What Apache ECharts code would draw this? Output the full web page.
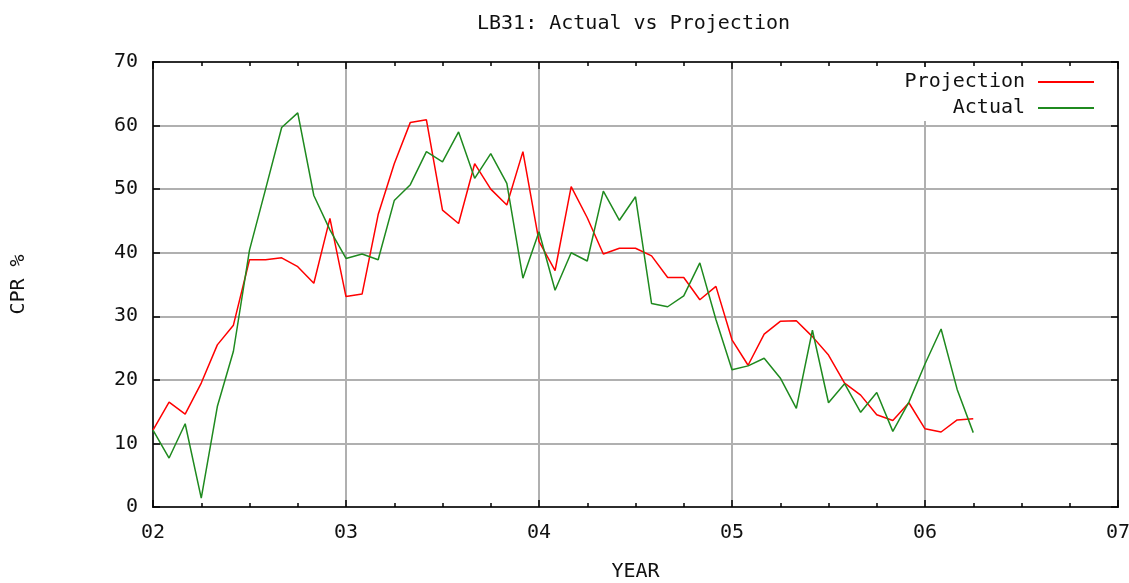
<!DOCTYPE html>
<html>
<head>
<meta charset="utf-8">
<script src="https://cdn.jsdelivr.net/npm/echarts@6/dist/echarts.min.js"></script>
<style>
  html, body { margin: 0; padding: 0; background: #fff; }
  #chart { width: 1129px; height: 583px; }
</style>
</head>
<body>
<div id="chart"></div>
<script>
// monthly values, first point is Jan 2002
var startYear = 2002
var projection = [12.1, 16.5, 14.6, 19.5, 25.5, 28.6, 38.9, 38.9, 39.2, 37.8, 35.2, 45.4,
                  33.1, 33.5, 46.0, 54.0, 60.5, 60.9, 46.7, 44.6, 54.0, 50.0, 47.5, 55.9,
                  41.8, 37.2, 50.4, 45.5, 39.8, 40.7, 40.7, 39.5, 36.1, 36.1, 32.6, 34.7,
                  26.3, 22.3, 27.2, 29.2, 29.3, 26.8, 23.9, 19.5, 17.6, 14.5, 13.6, 16.4,
                  12.3, 11.8, 13.7, 13.9]
var actual = [12.1, 7.7, 13.1, 1.4, 15.8, 24.5, 40.4, 50.0, 59.7, 62.0, 49.0, 43.6,
              39.1, 39.8, 38.9, 48.2, 50.7, 55.9, 54.3, 59.0, 51.7, 55.6, 50.9, 36.0,
              43.3, 34.1, 40.0, 38.7, 49.7, 45.1, 48.8, 32.0, 31.5, 33.2, 38.4, 29.5,
              21.6, 22.2, 23.4, 20.3, 15.5, 27.8, 16.4, 19.4, 14.9, 18.0, 11.9, 16.5,
              22.5, 28.0, 18.5, 11.7]
var yearTicks = [2002, 2003, 2004, 2005, 2006, 2007]

var font = '"DejaVu Sans Mono", "Liberation Mono", monospace'

function toPairs(vals){
    var out = []
    for (var i = 0; i < vals.length; i++)
        out.push([startYear + i / 12, vals[i]])
    return out
}

var myChart = echarts.init(document.getElementById('chart'))

var xBase = {
    type: 'value',
    min: yearTicks[0],
    max: yearTicks[yearTicks.length - 1],
    interval: 1,
    axisLine: { show: true, onZero: false, lineStyle: { color: '#000', width: 1.5 } },
    axisTick: { show: true, inside: true, length: 7, lineStyle: { color: '#000', width: 1.5 } },
    minorTick: { show: true, splitNumber: 4, length: 4, lineStyle: { color: '#000', width: 1.5 } }
}
var yBase = {
    type: 'value',
    min: 0,
    max: 70,
    interval: 10,
    axisLine: { show: true, onZero: false, lineStyle: { color: '#000', width: 1.5 } },
    axisTick: { show: true, inside: true, length: 7, lineStyle: { color: '#000', width: 1.5 } }
}

var option = {
    animation: false,
    backgroundColor: '#fff',
    title: {
        text: 'LB31: Actual vs Projection',
        left: 472,
        top: 9,
        textStyle: { fontFamily: font, fontSize: 20, fontWeight: 'normal', color: '#111' }
    },
    legend: {
        orient: 'vertical',
        align: 'right',
        right: 13,
        top: 67,
        padding: [5, 22, 3, 25],
        backgroundColor: '#fff',
        icon: 'rect',
        itemWidth: 56,
        itemHeight: 2,
        itemGap: 6,
        textStyle: { fontFamily: font, fontSize: 20, color: '#111', padding: [0, 8, 0, 0] },
        data: ['Projection', 'Actual']
    },
    grid: {
        left: 153,
        right: 11,
        top: 62,
        bottom: 76,
        outerBoundsMode: 'none',
        containLabel: false,
        show: true,
        borderColor: '#000',
        borderWidth: 1.5
    },
    xAxis: [
        Object.assign({}, xBase, {
            position: 'bottom',
            name: 'YEAR',
            nameLocation: 'middle',
            nameGap: 55,
            nameTextStyle: { fontFamily: font, fontSize: 20, color: '#111' },
            axisLabel: {
                margin: 16,
                fontFamily: font, fontSize: 20, color: '#111',
                formatter: function(v){ return String(v).slice(2) }
            },
            splitLine: { show: true, lineStyle: { color: '#b0b0b0', width: 2 } }
        }),
        Object.assign({}, xBase, {
            position: 'top',
            axisLabel: { show: false },
            splitLine: { show: false }
        })
    ],
    yAxis: [
        Object.assign({}, yBase, {
            position: 'left',
            name: 'CPR %',
            nameLocation: 'middle',
            nameRotate: 90,
            nameGap: 124,
            nameTextStyle: { fontFamily: font, fontSize: 20, color: '#111' },
            axisLabel: { margin: 15, fontFamily: font, fontSize: 20, color: '#111' },
            splitLine: { show: true, lineStyle: { color: '#b0b0b0', width: 2 } }
        }),
        Object.assign({}, yBase, {
            position: 'right',
            axisLabel: { show: false },
            splitLine: { show: false }
        })
    ],
    series: [
        {
            name: 'Projection',
            type: 'line',
            data: toPairs(projection),
            symbol: 'none',
            lineStyle: { color: '#ff0000', width: 1.5 },
            itemStyle: { color: '#ff0000' }
        },
        {
            name: 'Actual',
            type: 'line',
            data: toPairs(actual),
            symbol: 'none',
            lineStyle: { color: '#1f8a1f', width: 1.5 },
            itemStyle: { color: '#1f8a1f' }
        }
    ]
}

option && myChart.setOption(option)
</script>
</body>
</html>
